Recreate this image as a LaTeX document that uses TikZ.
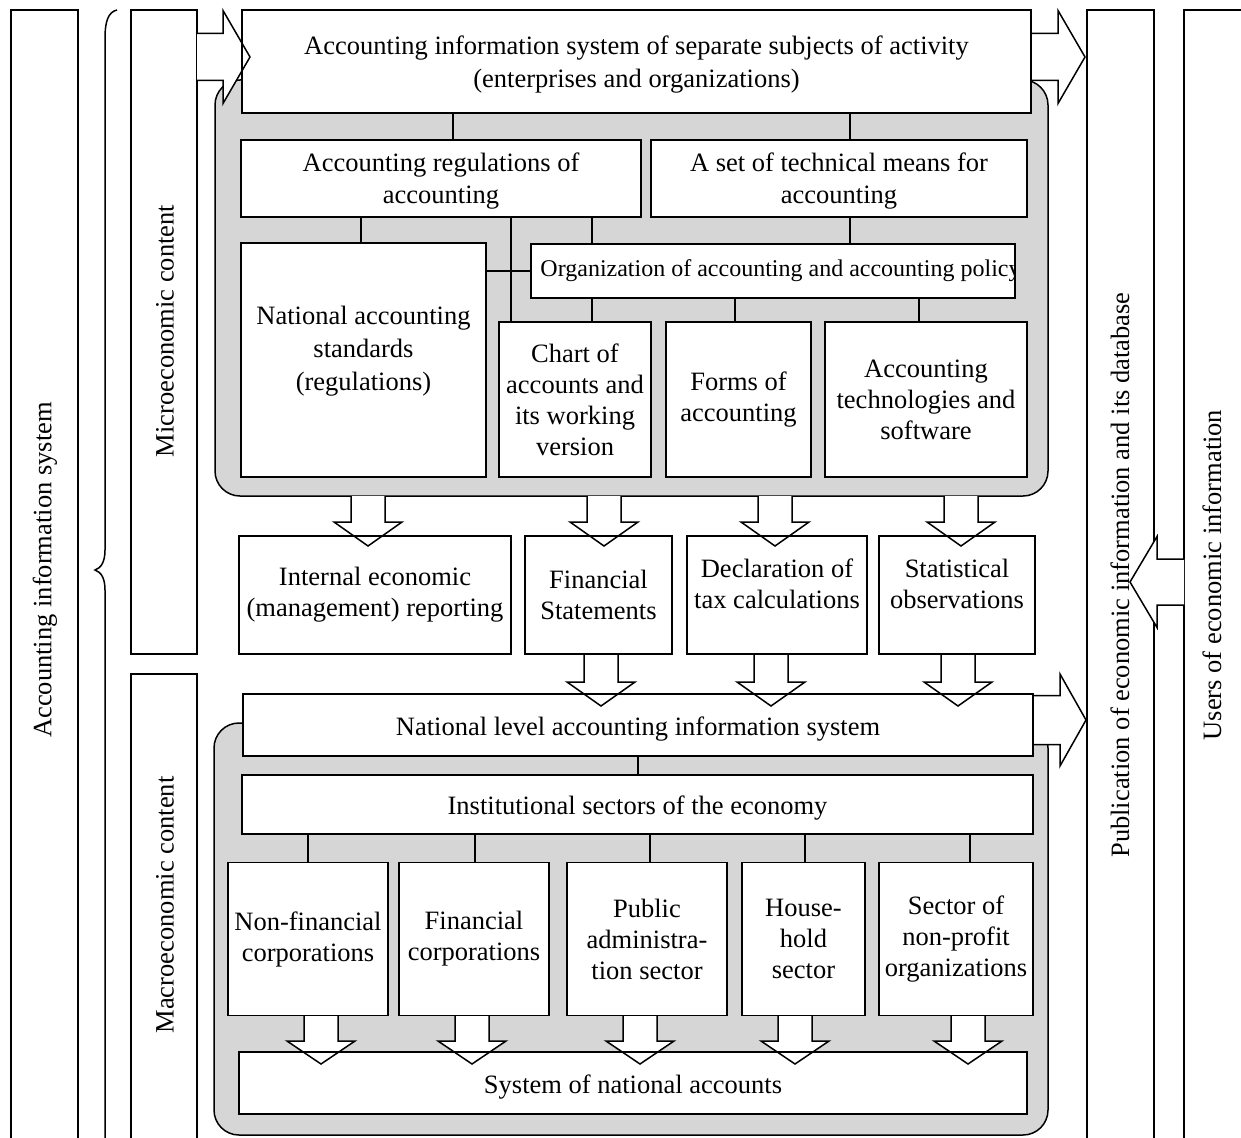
\documentclass[tikz,border=0pt]{standalone}
\usepackage{fontspec}
\setmainfont{Liberation Serif}
\usetikzlibrary{calc}
\newcommand{\darrowfill}[4]{\fill[white] (#1-17,#2) -- (#1-17,#3) -- (#1-34,#3) -- (#1,#4) -- (#1+34,#3) -- (#1+17,#3) -- (#1+17,#2) -- cycle;}
\newcommand{\darrowdraw}[4]{\draw[conn] (#1-17,#2) -- (#1-17,#3) -- (#1-34,#3) -- (#1,#4) -- (#1+34,#3) -- (#1+17,#3) -- (#1+17,#2);}
\newcommand{\harrowfill}[6]{\fill[white] (#1,#4-#5) -- (#2,#4-#5) -- (#2,#4-#6) -- (#3,#4) -- (#2,#4+#6) -- (#2,#4+#5) -- (#1,#4+#5) -- cycle;}
\newcommand{\harrowdraw}[6]{\draw[conn] (#1,#4-#5) -- (#2,#4-#5) -- (#2,#4-#6) -- (#3,#4) -- (#2,#4+#6) -- (#2,#4+#5) -- (#1,#4+#5);}
\begin{document}
\begin{tikzpicture}[x=1pt,y=-1pt,
  box/.style={draw, line width=1.5pt, fill=white, inner sep=0pt, align=center, font=\fontsize{26.5}{31}\selectfont},
  onebox/.style={box, text height=24pt, text depth=4pt},
  sidebox/.style={draw, line width=1.5pt, fill=white, inner sep=0pt},
  conn/.style={line width=1.5pt},
  graybg/.style={draw, line width=1.5pt, fill=black!16, rounded corners=25pt},
  lbl/.style={font=\fontsize{26.5}{31}\selectfont, inner sep=0pt}
]
\clip (0,0) rectangle (1241,1137);
\fill[white] (0,0) rectangle (1241,1137);

% side boxes
\node[sidebox, minimum width=67pt, minimum height=1140pt] (accbox) at (44.5,580) {};
\node[sidebox, minimum width=66pt, minimum height=644pt] (microbox) at (164,332) {};
\node[sidebox, minimum width=66pt, minimum height=476pt] (macrobox) at (164,912) {};
\node[sidebox, minimum width=67pt, minimum height=1140pt] (pubbox) at (1120.5,580) {};
\node[sidebox, minimum width=66pt, minimum height=1140pt] (usersbox) at (1217,580) {};
\node[lbl, rotate=90] (acclbl) at (45,570) {Accounting information system};
\node[lbl, rotate=90] (microlbl) at (165,331) {Microeconomic content};
\node[lbl, rotate=90] (macrolbl) at (165,905) {Macroeconomic content};
\node[lbl, rotate=90] (userslbl) at (1212,575) {Users of economic information};

% brace
\draw[conn] (117,10) .. controls (108,12) and (105,22) .. (105,38) -- (105,550) .. controls (105,562) and (101,568) .. (95,570) .. controls (101,572) and (105,578) .. (105,590) -- (105,1150);

% gray regions
\draw[graybg] (215,80) rectangle (1048,496);
\draw[graybg] (214,723) rectangle (1048,1135);

% arrow fills
\harrowfill{197}{223}{250}{57}{23.5}{46.5}
\harrowfill{1031}{1058}{1085}{57}{23.5}{46.5}
\harrowfill{1033}{1060}{1086}{720}{24.5}{46}
\darrowfill{368}{496}{522}{546}
\darrowfill{604}{496}{522}{546}
\darrowfill{775}{496}{522}{546}
\darrowfill{961}{496}{522}{546}
\darrowfill{601}{654}{682}{706}
\darrowfill{771}{654}{682}{706}
\darrowfill{958}{654}{682}{706}
\darrowfill{321}{1014}{1041}{1064}
\darrowfill{472}{1014}{1041}{1064}
\darrowfill{640}{1014}{1041}{1064}
\darrowfill{795}{1014}{1041}{1064}
\darrowfill{968}{1014}{1041}{1064}

% upper nodes
\node[box, minimum width=789pt, minimum height=103pt] (topbox) at (636.5,61.5) {};
\node[lbl, align=center, font=\fontsize{26.5}{33}\selectfont] (toptext) at (636.5,65) {Accounting information system of separate subjects of activity\\(enterprises and organizations)};
\node[box, minimum width=400pt, minimum height=77pt] (accreg) at (441,178.5) {};
\node[lbl, align=center, font=\fontsize{26.5}{32}\selectfont] (accregtext) at (441,181.5) {Accounting regulations of\\accounting};
\node[box, minimum width=376pt, minimum height=77pt] (techm) at (839,178.5) {};
\node[lbl, align=center, font=\fontsize{26.5}{32}\selectfont] (techmtext) at (839,181.5) {A set of technical means for\\accounting};
\node[box, minimum width=245pt, minimum height=234pt] (natstd) at (363.5,360) {};
\node[lbl, align=center, font=\fontsize{26.5}{33}\selectfont] (natstdtext) at (363.5,351) {National accounting\\standards\\(regulations)};
\node[box, minimum width=484pt, minimum height=54pt] (org) at (773,271) {};
\begin{scope}
\clip (org.south west) rectangle (org.north east);
\node[lbl, font=\fontsize{24}{29}\selectfont, anchor=west] (orgtext) at ($(org.west)+(10,0)$) {Organization of accounting and accounting policy};
\end{scope}
\node[box, minimum width=152pt, minimum height=155pt] (chart) at (575,399.5) {Chart of\\accounts and\\its working\\version};
\node[box, minimum width=145pt, minimum height=155pt] (forms) at (738.5,399.5) {Forms of\\accounting};
\node[box, minimum width=202pt, minimum height=155pt] (acctech) at (926,399.5) {Accounting\\technologies and\\software};

% middle row
\node[box, minimum width=272pt, minimum height=118pt] (internal) at (375,595) {Internal economic\\(management) reporting};
\node[box, minimum width=147pt, minimum height=118pt] (finst) at (598.5,595) {Financial\\Statements};
\node[box, minimum width=180pt, minimum height=118pt] (decl) at (777,595) {};
\node[lbl, align=center] (decltext) at (777,584) {Declaration of\\tax calculations};
\node[box, minimum width=156pt, minimum height=118pt] (stat) at (957,595) {};
\node[lbl, align=center] (stattext) at (957,584) {Statistical\\observations};

% lower nodes
\node[onebox, minimum width=790pt, minimum height=62pt] (national) at (638,725) {National level accounting information system};
\node[onebox, minimum width=791pt, minimum height=59pt] (inst) at (637.5,804.5) {Institutional sectors of the economy};
\node[box, minimum width=160pt, minimum height=153pt] (nonfin) at (308,939) {Non-financial\\corporations};
\node[box, minimum width=150pt, minimum height=153pt] (fin) at (474,939) {Financial\\corporations};
\node[box, minimum width=160pt, minimum height=153pt] (public) at (647,939) {Public\\administra-\\tion sector};
\node[box, minimum width=123pt, minimum height=153pt] (house) at (803.5,939) {House-\\hold\\sector};
\node[box, minimum width=154pt, minimum height=153pt] (nonprofit) at (956,939) {Sector of\\non-profit\\organizations};
\node[onebox, minimum width=788pt, minimum height=62pt] (sna) at (633,1083) {System of national accounts};

% arrow outlines
\harrowdraw{197}{223}{250}{57}{23.5}{46.5}
\harrowdraw{1031}{1058}{1085}{57}{23.5}{46.5}
\harrowdraw{1033}{1060}{1086}{720}{24.5}{46}
\darrowdraw{368}{496}{522}{546}
\darrowdraw{604}{496}{522}{546}
\darrowdraw{775}{496}{522}{546}
\darrowdraw{961}{496}{522}{546}
\darrowdraw{601}{654}{682}{706}
\darrowdraw{771}{654}{682}{706}
\darrowdraw{958}{654}{682}{706}
\darrowdraw{321}{1015.5}{1041}{1064}
\darrowdraw{472}{1015.5}{1041}{1064}
\darrowdraw{640}{1015.5}{1041}{1064}
\darrowdraw{795}{1015.5}{1041}{1064}
\darrowdraw{968}{1015.5}{1041}{1064}

% connector columns
\coordinate (c453) at (453,0);
\coordinate (c850) at (850,0);
\coordinate (c361) at (361,0);
\coordinate (c592) at (592,0);
\coordinate (c511) at (511,0);
\coordinate (c735) at (735,0);
\coordinate (c919) at (919,0);
\coordinate (c638) at (638,0);
\coordinate (c308) at (308,0);
\coordinate (c475) at (475,0);
\coordinate (c650) at (650,0);
\coordinate (c805) at (805,0);
\coordinate (c970) at (970,0);

\draw[conn] (topbox.south -| c453) -- (accreg.north -| c453);
\draw[conn] (topbox.south -| c850) -- (techm.north -| c850);
\draw[conn] (accreg.south -| c361) -- (natstd.north -| c361);
\draw[conn] (accreg.south -| c592) -- (org.north -| c592);
\draw[conn] (techm.south -| c850) -- (org.north -| c850);
\draw[conn] (accreg.south -| c511) -- (chart.north -| c511);
\draw[conn] (natstd.east |- org.west) -- (org.west);
\draw[conn] (org.south -| c592) -- (chart.north -| c592);
\draw[conn] (org.south -| c735) -- (forms.north -| c735);
\draw[conn] (org.south -| c919) -- (acctech.north -| c919);
\draw[conn] (national.south -| c638) -- (inst.north -| c638);
\draw[conn] (inst.south -| c308) -- (nonfin.north -| c308);
\draw[conn] (inst.south -| c475) -- (fin.north -| c475);
\draw[conn] (inst.south -| c650) -- (public.north -| c650);
\draw[conn] (inst.south -| c805) -- (house.north -| c805);
\draw[conn] (inst.south -| c970) -- (nonprofit.north -| c970);

% users arrow over publication box
\harrowfill{1184}{1157}{1130}{582}{23}{45.5}
\harrowdraw{1184}{1157}{1130}{582}{23}{45.5}
\node[lbl, rotate=90] (publbl) at (1120,575) {Publication of economic information and its database};
\end{tikzpicture}
\end{document}
